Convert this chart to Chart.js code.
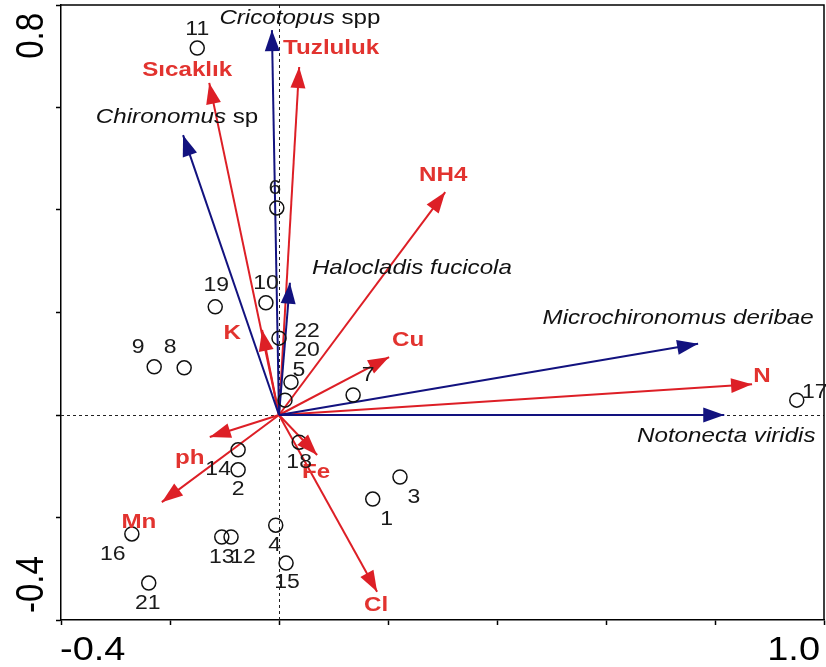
<!DOCTYPE html>
<html>
<head>
<meta charset="utf-8">
<script src="https://cdn.jsdelivr.net/npm/chart.js@4/dist/chart.umd.min.js"></script>
<style>
  html, body { margin: 0; padding: 0; background: #ffffff; }
  #wrap { width: 826px; height: 667px; }
</style>
</head>
<body>
<div id="wrap"><canvas id="cca" width="826" height="667"></canvas></div>
<script>
// ---- Ordination scores (axis 1, axis 2) ----
const siteIds   = ['1','2','3','4','5','6','7','8','9','10','11','12','13','14','15','16','17','18','19','20','21','22'];
const siteAxis1 = [0.172,-0.075,0.222,-0.006,0.011,-0.004,0.136,-0.174,-0.229,-0.024,-0.150,-0.088,-0.105,-0.075,0.013,-0.270,0.950,0.037,-0.117,0.022,-0.239,0.000];
const siteAxis2 = [-0.164,-0.107,-0.121,-0.215,0.029,0.404,0.039,0.092,0.094,0.219,0.716,-0.238,-0.238,-0.068,-0.289,-0.232,0.029,-0.053,0.211,0.064,-0.328,0.150];

// Species (italic genus/species part + plain suffix)
const speciesItalic = ['Cricotopus','Chironomus','Halocladis fucicola','Microchironomus deribae','Notonecta viridis'];
const speciesSuffix = [' spp',' sp','','',''];
const speciesAxis1  = [-0.013,-0.176,0.020,0.769,0.817];
const speciesAxis2  = [0.751,0.546,0.258,0.139,0.000];

// Environmental variables
const envNames = ['Tuzluluk','Sıcaklık','NH4','K','Cu','N','Fe','Cl','ph','Mn'];
const envAxis1 = [0.037,-0.128,0.305,-0.031,0.202,0.868,0.070,0.180,-0.127,-0.215];
const envAxis2 = [0.679,0.648,0.435,0.166,0.113,0.060,-0.078,-0.345,-0.043,-0.170];

// Axis end labels
const xEndLabels = ['-0.4','1.0'];
const yEndLabels = ['-0.4','0.8'];

// ---- Label placement (pixel offsets from the mark) ----
const siteLabelOffset = {
  '1':[14,20],'2':[0,20],'3':[14,20],'4':[-1,20],'5':[14,-30],'6':[-2,-19],'7':[15,-20],
  '8':[-14,-20],'9':[-16,-19],'10':[0,-19],'11':[0,-19],'12':[12,21],'13':[0,21],'14':[-20,20],
  '15':[1,19],'16':[-19,21],'17':[18,-8],'18':[0,20],'19':[1,-21],'20':[16,-32],'21':[-1,20],'22':[28,-7]
};
const speciesLabelOffset = [[28,-12],[-6,-18],[122,-15],[-20,-26],[2,21]];
const envLabelOffset = [[32,-19],[-22,-13],[-2,-17],[-30,3],[19,-17],[10,-8],[-1,17],[-1,13],[-20,21],[-23,20]];

const BLUE = '#12127f';
const RED = '#dd1f26';
const RED_TEXT = '#e2332f';
const FONT = '"Liberation Sans", Arial, sans-serif';
const SX = 1.15; // horizontal stretch of the lettering

function stretchedText(ctx, parts, x, y, align, color) {
  ctx.save();
  ctx.fillStyle = color;
  ctx.textBaseline = 'middle';
  let total = 0;
  parts.forEach(p => { ctx.font = p.font; p.w = ctx.measureText(p.text).width; total += p.w; });
  let start = align === 'center' ? -total / 2 : (align === 'right' ? -total : 0);
  ctx.translate(x, y);
  ctx.scale(SX, 1);
  ctx.textAlign = 'left';
  parts.forEach(p => { ctx.font = p.font; ctx.fillText(p.text, start, 0); start += p.w; });
  ctx.restore();
}

const arrowDatasets = [];
speciesItalic.forEach((n, i) => arrowDatasets.push({
  label: n + speciesSuffix[i], kind: 'species', idx: i,
  data: [{x: 0, y: 0}, {x: speciesAxis1[i], y: speciesAxis2[i]}],
  showLine: true, borderColor: BLUE, borderWidth: 2, pointRadius: 0, order: 2
}));
envNames.forEach((n, i) => arrowDatasets.push({
  label: n, kind: 'env', idx: i,
  data: [{x: 0, y: 0}, {x: envAxis1[i], y: envAxis2[i]}],
  showLine: true, borderColor: RED, borderWidth: 2, pointRadius: 0, order: 2
}));

const siteDataset = {
  label: 'Sites', kind: 'sites',
  data: siteIds.map((id, i) => ({x: siteAxis1[i], y: siteAxis2[i]})),
  pointStyle: 'circle', pointRadius: 7, pointBorderWidth: 1.5,
  pointBorderColor: '#111', pointBackgroundColor: 'rgba(0,0,0,0)', showLine: false, order: 1
};

const decor = {
  id: 'decor',
  beforeDatasetsDraw(chart) {
    const {ctx, chartArea: a, scales: {x, y}} = chart;
    ctx.save();
    ctx.strokeStyle = '#222';
    ctx.lineWidth = 1;
    ctx.setLineDash([3, 3]);
    const x0 = Math.round(x.getPixelForValue(0)) + 0.5;
    const y0 = Math.round(y.getPixelForValue(0)) + 0.5;
    ctx.beginPath();
    ctx.moveTo(x0, a.top); ctx.lineTo(x0, a.bottom);
    ctx.moveTo(a.left, y0); ctx.lineTo(a.right, y0);
    ctx.stroke();
    ctx.restore();
  },
  afterDatasetsDraw(chart) {
    const {ctx, chartArea: a, scales: {x, y}} = chart;
    // frame (top and right sides)
    ctx.save();
    ctx.strokeStyle = '#000';
    ctx.lineWidth = 1.5;
    ctx.beginPath();
    ctx.moveTo(a.left, a.top); ctx.lineTo(a.right, a.top); ctx.lineTo(a.right, a.bottom);
    ctx.stroke();
    ctx.restore();

    // arrowheads and arrow labels
    chart.data.datasets.forEach((ds, di) => {
      if (ds.kind !== 'species' && ds.kind !== 'env') return;
      const pts = chart.getDatasetMeta(di).data;
      const p0 = pts[0], p1 = pts[1];
      const ang = Math.atan2(p1.y - p0.y, p1.x - p0.x);
      const L = 21, W = 7.5;
      ctx.save();
      ctx.fillStyle = ds.borderColor;
      ctx.translate(p1.x, p1.y);
      ctx.rotate(ang);
      ctx.beginPath();
      ctx.moveTo(0, 0); ctx.lineTo(-L, -W); ctx.lineTo(-L, W); ctx.closePath();
      ctx.fill();
      ctx.restore();

      if (ds.kind === 'species') {
        const o = speciesLabelOffset[ds.idx];
        const parts = [{text: speciesItalic[ds.idx], font: 'italic 21px ' + FONT}];
        if (speciesSuffix[ds.idx]) parts.push({text: speciesSuffix[ds.idx], font: '21px ' + FONT});
        stretchedText(ctx, parts, p1.x + o[0], p1.y + o[1], 'center', '#111');
      } else {
        const o = envLabelOffset[ds.idx];
        stretchedText(ctx, [{text: envNames[ds.idx], font: 'bold 21px ' + FONT}], p1.x + o[0], p1.y + o[1], 'center', RED_TEXT);
      }
    });

    // site numbers
    const sIdx = chart.data.datasets.findIndex(d => d.kind === 'sites');
    chart.getDatasetMeta(sIdx).data.forEach((pt, i) => {
      const o = siteLabelOffset[siteIds[i]];
      stretchedText(ctx, [{text: siteIds[i], font: '20px ' + FONT}], pt.x + o[0], pt.y + o[1], 'center', '#1a1a1a');
    });

    // axis end labels
    const axFont = '33px ' + FONT;
    ctx.save();
    ctx.fillStyle = '#000';
    ctx.font = axFont;
    ctx.textBaseline = 'alphabetic';
    // x axis
    [[xEndLabels[0], x.min, 'left'], [xEndLabels[1], x.max, 'right']].forEach(([t, v, al]) => {
      const px = x.getPixelForValue(v);
      ctx.save();
      ctx.translate(al === 'left' ? px - 1 : px - 4, a.bottom + 40);
      ctx.scale(SX, 1);
      ctx.textAlign = al;
      ctx.fillText(t, 0, 0);
      ctx.restore();
    });
    // y axis (rotated)
    [[yEndLabels[0], y.min, 'left'], [yEndLabels[1], y.max, 'right']].forEach(([t, v, al]) => {
      const py = y.getPixelForValue(v);
      ctx.save();
      ctx.translate(a.left - 18, al === 'left' ? py - 7 : py + 8);
      ctx.scale(SX, 1);
      ctx.rotate(-Math.PI / 2);
      ctx.textAlign = al;
      ctx.fillText(t, 0, 0);
      ctx.restore();
    });
    ctx.restore();
  }
};

new Chart(document.getElementById('cca'), {
  type: 'scatter',
  data: { datasets: [...arrowDatasets, siteDataset] },
  options: {
    responsive: false,
    animation: false,
    devicePixelRatio: 1,
    layout: { autoPadding: false, padding: { left: 61, top: 5, right: 2, bottom: 47 } },
    plugins: { legend: { display: false }, tooltip: { enabled: false } },
    scales: {
      x: {
        type: 'linear', min: -0.4, max: 1.0,
        ticks: { display: false, stepSize: 0.2 },
        grid: { drawOnChartArea: false, drawTicks: true, tickLength: 5, tickColor: '#000', tickWidth: 1.5 },
        border: { display: true, color: '#000', width: 1.5 },
        afterFit(s) { s.height = 0; }
      },
      y: {
        type: 'linear', min: -0.4, max: 0.8,
        ticks: { display: false, stepSize: 0.2 },
        grid: { drawOnChartArea: false, drawTicks: true, tickLength: 5, tickColor: '#000', tickWidth: 1.5 },
        border: { display: true, color: '#000', width: 1.5 },
        afterFit(s) { s.width = 0; }
      }
    }
  },
  plugins: [decor]
});
</script>
</body>
</html>
